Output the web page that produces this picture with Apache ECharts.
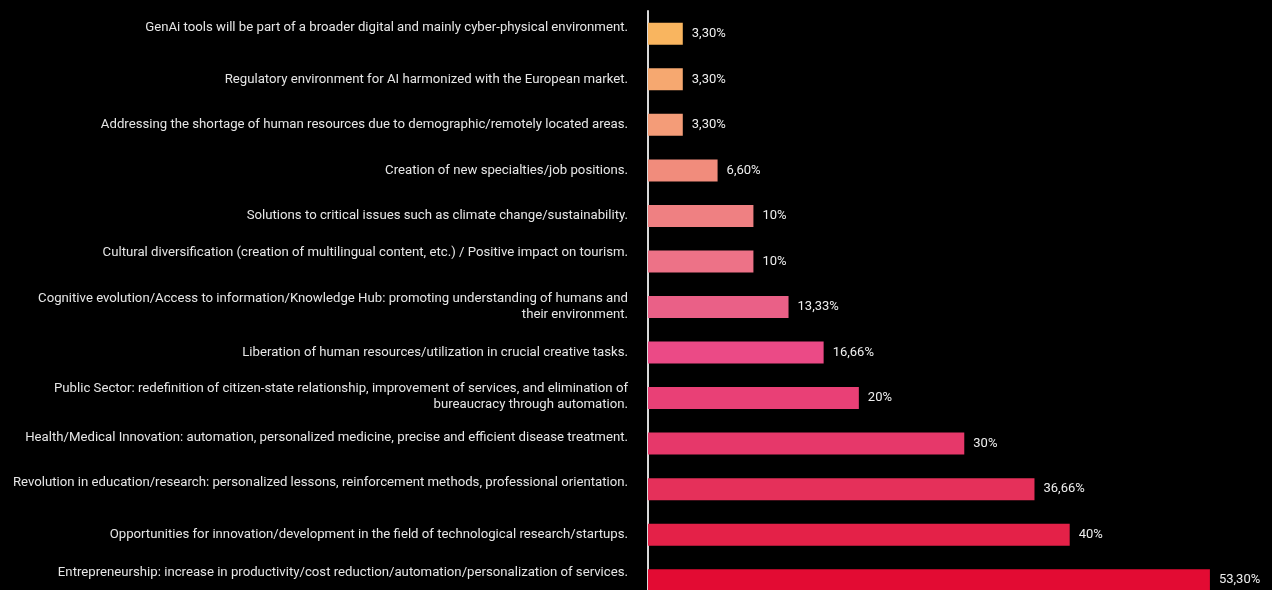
<!DOCTYPE html>
<html>
<head>
<meta charset="utf-8">
<style>
  html, body { margin: 0; padding: 0; background: #000; }
  #chart { width: 1272px; height: 590px; }
</style>
<script src="https://cdn.jsdelivr.net/npm/echarts@6/dist/echarts.min.js"></script>
</head>
<body>
<div id="chart"></div>
<script>
// Expected benefits of generative AI, share of respondents (%)
const categories = [
  "GenAi tools will be part of a broader digital and mainly cyber-physical environment.",
  "Regulatory environment for AI harmonized with the European market.",
  "Addressing the shortage of human resources due to demographic/remotely located areas.",
  "Creation of new specialties/job positions.",
  "Solutions to critical issues such as climate change/sustainability.",
  "Cultural diversification (creation of multilingual content, etc.) / Positive impact on tourism.",
  "Cognitive evolution/Access to information/Knowledge Hub: promoting understanding of humans and\ntheir environment.",
  "Liberation of human resources/utilization in crucial creative tasks.",
  "Public Sector: redefinition of citizen-state relationship, improvement of services, and elimination of\nbureaucracy through automation.",
  "Health/Medical Innovation: automation, personalized medicine, precise and efficient disease treatment.",
  "Revolution in education/research: personalized lessons, reinforcement methods, professional orientation.",
  "Opportunities for innovation/development in the field of technological research/startups.",
  "Entrepreneurship: increase in productivity/cost reduction/automation/personalization of services."
];
const values = [3.3, 3.3, 3.3, 6.6, 10, 10, 13.33, 16.66, 20, 30, 36.66, 40, 53.3];
const valueLabels = ["3,30%", "3,30%", "3,30%", "6,60%", "10%", "10%", "13,33%", "16,66%", "20%", "30%", "36,66%", "40%", "53,30%"];
const barColors = [
  "#F9B55F", "#F6A870", "#F49C78", "#F18C7C", "#EF8082", "#ED7287",
  "#EA6087", "#EB4A86", "#E94076", "#E6386A", "#E5305A", "#E42148", "#E30B33"
];

// How far (px) each category label is raised above its bar's centre line
const labelLift = [9, 0, 0, 0, 0, 11, 3, 0, 4, 8, 9, 0, 10];

// A thin blank line under a label pushes the text block up
const gapStyles = {};
labelLift.forEach(n => {
  gapStyles["g" + n] = { fontSize: 1, lineHeight: Math.max(1, 2 * n - 5), color: "transparent" };
});

function formatCategory(v, i) {
  const n = labelLift[i] || 0;
  return n ? v + "\n{g" + n + "| }" : v;
}

const chart = echarts.init(document.getElementById("chart"));

chart.setOption({
  backgroundColor: "#000000",
  animation: false,
  grid: {
    left: 648, top: 11, right: 2, bottom: -13,
    containLabel: false,
    outerBoundsMode: "none"
  },
  xAxis: {
    type: "value",
    min: 0,
    max: 59,
    show: false
  },
  yAxis: {
    type: "category",
    inverse: true,
    data: categories,
    axisLine: { show: true, lineStyle: { color: "#d9d9d9", width: 2 } },
    axisTick: { show: false },
    splitLine: { show: false },
    axisLabel: {
      color: "#e6e6e6",
      fontFamily: "Roboto",
      fontSize: 13.2,
      lineHeight: 16,
      margin: 20,
      align: "right",
      formatter: formatCategory,
      rich: gapStyles
    }
  },
  series: [{
    type: "bar",
    barWidth: 22,
    data: values.map((v, i) => ({ value: v, itemStyle: { color: barColors[i] } })),
    label: {
      show: true,
      position: "right",
      distance: 9,
      color: "#eeeeee",
      fontFamily: "Roboto",
      fontSize: 13,
      formatter: p => valueLabels[p.dataIndex]
    }
  }]
});
</script>
</body>
</html>
